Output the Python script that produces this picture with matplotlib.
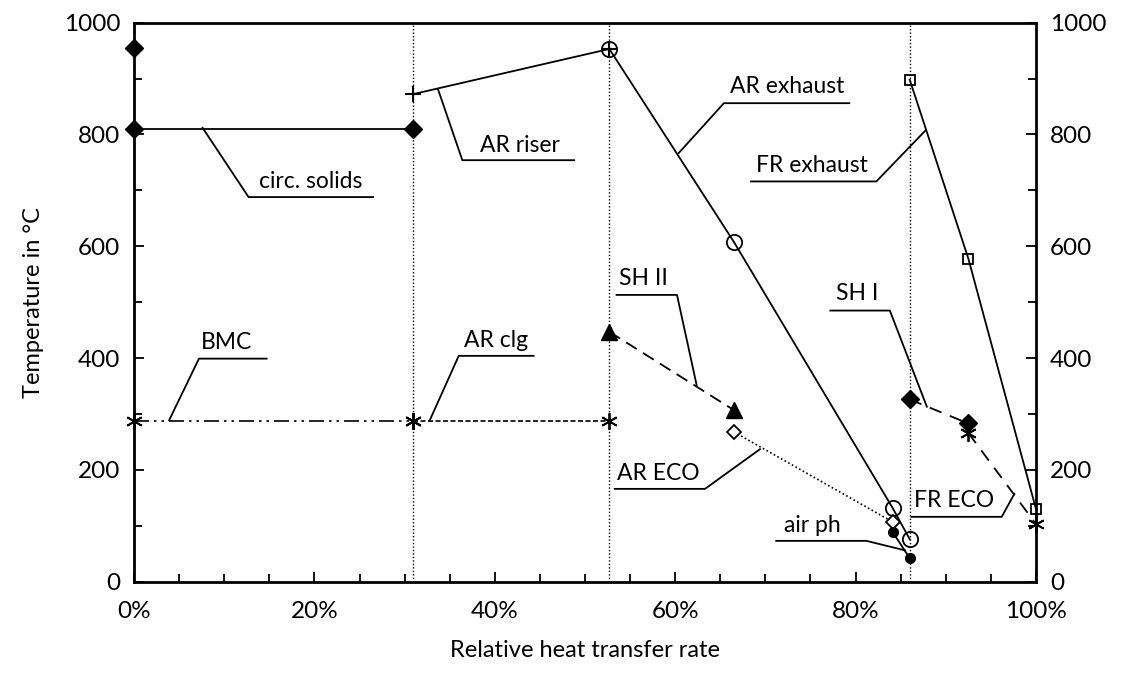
import numpy as np
import matplotlib
matplotlib.use("Agg")
import matplotlib.pyplot as plt
from matplotlib.ticker import MultipleLocator, PercentFormatter

plt.rcParams['font.family'] = ['Lato', 'DejaVu Sans']

# section boundaries (relative heat transfer rate in %)
x_bounds = [30.9, 52.7, 86.0]

# series data (x in %, temperature in °C)
circ_x, circ_y = [0, 30.9], [810, 810]
circ_top_x, circ_top_y = [0], [955]
riser_x, riser_y = [30.9, 52.7], [872, 953]
ar_exh_x, ar_exh_y = [52.7, 66.5, 84.1, 86.0], [953, 608, 132, 76]
fr_exh_x, fr_exh_y = [86.0, 92.5, 100], [898, 578, 130]
bmc_x, bmc_y = [0, 30.9], [287, 287]
arclg_x, arclg_y = [30.9, 52.7], [287, 287]
sh2_x, sh2_y = [52.7, 66.5], [447, 307]
areco_x, areco_y = [66.5, 84.1], [268, 107]
airph_x, airph_y = [84.1, 86.0], [89, 42]
sh1_x, sh1_y = [86.0, 92.5], [326, 283]
freco_x, freco_y = [92.5, 100], [266, 103]

# callout labels: text, text centre, leader tip, underline start, underline end
labels = ['circ. solids', 'AR riser', 'AR exhaust', 'FR exhaust', 'BMC', 'AR clg',
          'SH II', 'AR ECO', 'air ph', 'SH I', 'FR ECO']
label_pos = [(19.6, 716), (42.8, 780), (72.4, 885), (75.2, 744), (10.3, 427), (40.1, 432),
             (56.5, 543), (58.1, 194), (75.2, 101), (80.2, 515), (90.9, 146)]
label_tip = [(7.6, 812), (33.7, 881), (60.4, 767), (87.8, 808), (3.9, 289), (32.8, 289),
             (62.4, 350), (69.4, 237), (85.5, 56), (87.9, 313), (97.6, 157)]
label_ul0 = [(12.7, 688), (36.4, 754), (65.4, 856), (82.3, 716), (7.2, 399), (36.0, 404),
             (60.2, 513), (63.3, 166), (81.2, 73), (83.8, 485), (96.2, 116)]
label_ul1 = [26.5, 48.8, 79.3, 68.4, 14.7, 44.3, 53.5, 53.3, 71.2, 77.2, 86.2]

fig = plt.figure(figsize=(11.3, 6.77), dpi=100)
ax = fig.add_axes([0.1186, 0.1408, 0.7982, 0.8257])

for xb in x_bounds:
    ax.axvline(xb, color='black', lw=1.0, ls=(0, (1, 1.5)), zorder=1)

lw = 1.3
star = (6, 2, 0)
kw = dict(color='black', zorder=3, clip_on=False)
ax.plot(circ_x, circ_y, lw=lw, marker='D', ms=9, mfc='black', **kw)
ax.plot(circ_top_x, circ_top_y, ls='none', marker='D', ms=9, mfc='black', **kw)
ax.plot(riser_x, riser_y, lw=lw, marker='+', ms=11, mew=1.5, **kw)
ax.plot(ar_exh_x, ar_exh_y, lw=lw, marker='o', ms=11, mfc='none', mew=1.3, **kw)
ax.plot(fr_exh_x, fr_exh_y, lw=lw, marker='s', ms=7, mfc='none', mew=1.3, **kw)
ax.plot(bmc_x, bmc_y, lw=1.2, ls=(0, (9, 3, 1.5, 3, 1.5, 3)), marker=star, ms=12, mew=1.3, **kw)
ax.plot(arclg_x, arclg_y, lw=1.2, ls=(0, (3, 1.5)), marker=star, ms=12, mew=1.3, **kw)
ax.plot(sh2_x, sh2_y, lw=lw, ls=(0, (7, 4)), marker='^', ms=11, mfc='black', **kw)
ax.plot(areco_x, areco_y, lw=1.2, ls=(0, (1, 1.5)), marker='D', ms=7, mfc='white', mew=1.3, **kw)
ax.plot(airph_x, airph_y, lw=lw, marker='o', ms=7, mfc='black', **kw)
ax.plot(sh1_x, sh1_y, lw=lw, ls=(0, (7, 5)), marker='D', ms=9, mfc='black', **kw)
ax.plot(freco_x, freco_y, lw=lw, ls=(0, (7, 5)), marker=star, ms=12, mew=1.3, **kw)

# callouts
for txt, pos, tip, ul0, ul1 in zip(labels, label_pos, label_tip, label_ul0, label_ul1):
    ax.plot([tip[0], ul0[0], ul1], [tip[1], ul0[1], ul0[1]], color='black', lw=1.3, zorder=2)
    ax.text(pos[0], pos[1], txt, ha='center', va='center', fontsize=16.5)

ax.set_xlim(0, 100)
ax.set_ylim(0, 1000)
ax.xaxis.set_major_locator(MultipleLocator(20))
ax.xaxis.set_minor_locator(MultipleLocator(5))
ax.xaxis.set_major_formatter(PercentFormatter(decimals=0))
ax.yaxis.set_major_locator(MultipleLocator(200))
ax.yaxis.set_minor_locator(MultipleLocator(100))
ax.tick_params(which='both', direction='in', top=True, right=True, labelright=True,
               width=1.3, labelsize=17.5, colors='black')
ax.tick_params(which='major', length=7)
ax.tick_params(which='minor', length=6)
ax.tick_params(axis='x', which='both', top=False, pad=14)
ax.tick_params(axis='y', which='both', pad=10)
for s in ax.spines.values():
    s.set_linewidth(2.0)

ax.set_xlabel('Relative heat transfer rate', fontsize=17, labelpad=13)
ax.set_ylabel('Temperature in °C', fontsize=17, labelpad=14)

fig.savefig('out.png', dpi=100)
